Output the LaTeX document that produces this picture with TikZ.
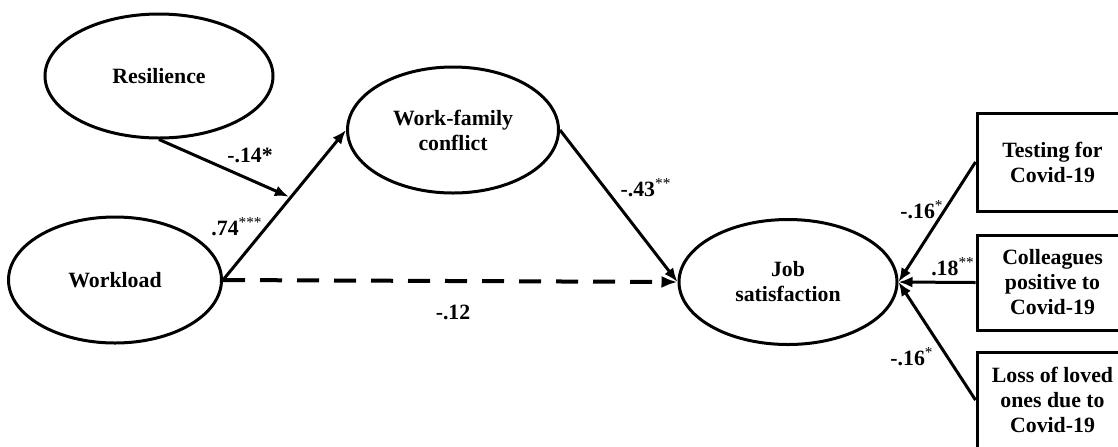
\documentclass[tikz,border=0pt]{standalone}
\usepackage{fontspec}
\setmainfont{Liberation Serif}
\usetikzlibrary{shapes.geometric,arrows.meta}
\begin{document}
\begin{tikzpicture}[x=0.5pt,y=-0.5pt,
  font=\fontsize{10.9pt}{12.5pt}\selectfont\bfseries,
  latent/.style={draw,line width=1.5pt,ellipse,inner sep=0pt,align=center},
  observed/.style={draw,line width=1.5pt,rectangle,inner sep=0pt,align=center,minimum width=75.5pt},
  path/.style={line width=1.5pt,-{Latex[length=7pt,width=5.5pt]}},
  dpath/.style={line width=2pt,dash pattern=on 11pt off 7.5pt,-{Latex[length=8pt,width=6pt]}},
  lbl/.style={inner sep=0pt}]
\useasboundingbox (0,0) rectangle (1118,446);
\clip (0,0) rectangle (1118,446);
\node[latent,minimum width=114pt,minimum height=62pt] (res) at (159,76) {Resilience};
\node[latent,minimum width=105.5pt,minimum height=63pt] (wfc) at (453,130) {Work-family\\conflict};
\node[latent,minimum width=106.5pt,minimum height=63pt] (wl) at (115,280) {Workload};
\node[latent,minimum width=109pt,minimum height=62.5pt] (job) at (788,282) {Job\\satisfaction};
\node[observed,minimum height=49pt] (test) at (1052.5,162) {Testing for\\Covid-19};
\node[observed,minimum height=47.5pt] (coll) at (1052.5,282.5) {Colleagues\\positive to\\Covid-19};
\node[observed,minimum height=48pt] (loss) at (1052.5,400) {Loss of loved\\ones due to\\Covid-19};
\draw[path] (wl.east) -- coordinate[pos=0.55] (m) (wfc.west);
\draw[path,shorten >=1pt] (res.south) -- (m);
\draw[path] (wfc.east) -- (job.west);
\draw[dpath] (wl.east) -- (job.west);
\draw[path] (test.west) -- (job.east);
\draw[path] (coll.west) -- (job.east);
\draw[path] (loss.west) -- (job.east);
\node[lbl] (l1) at (250,155) {-.14*};
\node[lbl] (l2) at (237,227) {.74\textsuperscript{\mdseries***}};
\node[lbl] (l3) at (453,312) {-.12};
\node[lbl] (l4) at (646,188) {-.43\textsuperscript{\mdseries**}};
\node[lbl] (l5) at (922,210) {-.16\textsuperscript{\mdseries*}};
\node[lbl] (l6) at (953,267) {.18\textsuperscript{\mdseries**}};
\node[lbl] (l7) at (912,357) {-.16\textsuperscript{\mdseries*}};
\end{tikzpicture}
\end{document}
